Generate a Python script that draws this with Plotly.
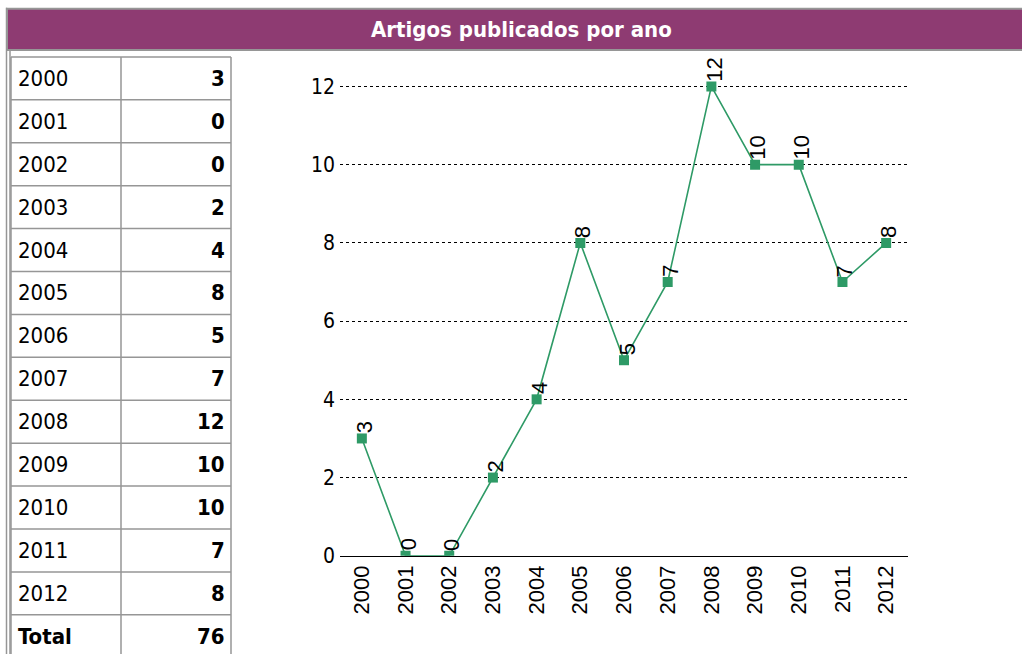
import plotly.graph_objects as go

years = ["2000", "2001", "2002", "2003", "2004", "2005", "2006", "2007", "2008", "2009", "2010", "2011", "2012"]
counts = [3, 0, 0, 2, 4, 8, 5, 7, 12, 10, 10, 7, 8]
total_label = "Total"
title_text = "Artigos publicados por ano"
y_ticks = [0, 2, 4, 6, 8, 10, 12]

W, H = 1022, 666
PURPLE = "rgb(142,59,114)"
GREEN = "rgb(46,154,102)"
GRAY = "rgb(150,150,150)"
TFONT = "DejaVu Sans Condensed"

fig = go.Figure()

# chart
fig.add_trace(go.Scatter(
    x=years, y=counts, mode="lines+markers",
    line=dict(color=GREEN, width=1.6),
    marker=dict(symbol="square", size=10, color=GREEN),
    cliponaxis=True, showlegend=False, hoverinfo="x+y",
    xaxis="x", yaxis="y",
))
for i, (yr, c) in enumerate(zip(years, counts)):
    fig.add_annotation(
        x=i, y=c, xref="x", yref="y", text=str(c), showarrow=False,
        textangle=-90, yanchor="bottom", xanchor="center", yshift=3, xshift=3,
        font=dict(family="Liberation Sans", size=22, color="black"),
    )

# pixel-space overlay axis for table/frame
fig.add_trace(go.Scatter(x=[0], y=[0], xaxis="x2", yaxis="y2", mode="markers",
                         marker=dict(opacity=0), showlegend=False, hoverinfo="skip"))

shapes = []
# outer frame lines on left
shapes.append(dict(type="line", xref="x2", yref="y2", x0=6.5, x1=6.5, y0=8, y1=H, line=dict(color=GRAY, width=1.5)))
shapes.append(dict(type="line", xref="x2", yref="y2", x0=10, x1=10, y0=50, y1=H, line=dict(color=GRAY, width=1.5)))
# title bar
shapes.append(dict(type="rect", xref="x2", yref="y2", x0=7, x1=W + 5, y0=9, y1=51,
                   fillcolor=PURPLE, line=dict(color=GRAY, width=2), layer="above"))

# table
tx0, tx1, tmid = 11, 231, 121
ty0, rh = 58, 43.7
rows = list(zip(years, [str(c) for c in counts])) + [(total_label, str(sum(counts)))]
n = len(rows)
for i in range(n + 1):
    yy = ty0 + i * rh
    shapes.append(dict(type="line", xref="x2", yref="y2", x0=tx0, x1=tx1, y0=yy, y1=yy,
                       line=dict(color=GRAY, width=1.5)))
for xx in (tx0, tmid, tx1):
    shapes.append(dict(type="line", xref="x2", yref="y2", x0=xx, x1=xx, y0=ty0, y1=ty0 + n * rh,
                       line=dict(color=GRAY, width=1.5)))

for i, (lab, val) in enumerate(rows):
    yc = ty0 + (i + 0.5) * rh
    is_total = (lab == total_label)
    fig.add_annotation(x=16, y=yc, xref="x2", yref="y2", text=("<b>%s</b>" % lab) if is_total else lab,
                       showarrow=False, xanchor="left", yanchor="middle",
                       font=dict(family=TFONT, size=22, color="black"))
    fig.add_annotation(x=227, y=yc, xref="x2", yref="y2", text="<b>%s</b>" % val,
                       showarrow=False, xanchor="right", yanchor="middle",
                       font=dict(family=TFONT, size=22, color="black"))

fig.add_annotation(x=521, y=30, xref="x2", yref="y2", text="<b>%s</b>" % title_text,
                   showarrow=False, xanchor="center", yanchor="middle",
                   font=dict(family=TFONT, size=22, color="white"))

# geometry of plot area in pixels
px_left, px_right = 340, 908
px_zero, px_twelve = 566, 88
unit = (px_zero - px_twelve) / 12.0
ymax = 12.6
px_top = px_zero - ymax * unit

fig.update_layout(
    width=W, height=H, autosize=False, margin=dict(l=0, r=0, t=0, b=0, pad=0),
    paper_bgcolor="white", plot_bgcolor="rgba(0,0,0,0)",
    shapes=shapes,
    xaxis=dict(domain=[px_left / W, px_right / W], type="category", range=[-0.5, 12.5],
               showgrid=False, showline=True, linecolor="black", linewidth=1,
               ticks="", tickangle=-90, zeroline=False, anchor="y",
               tickfont=dict(family="Liberation Sans", size=22, color="black"), fixedrange=True),
    yaxis=dict(domain=[1 - px_zero / H, 1 - px_top / H], range=[0, ymax], anchor="x",
               tickvals=y_ticks, showgrid=True, gridcolor="black", griddash="dot", gridwidth=1,
               zeroline=False, showline=False, ticks="", ticklabelstandoff=4,
               tickfont=dict(family=TFONT, size=21, color="black"), fixedrange=True),
    xaxis2=dict(domain=[0, 1], range=[0, W], visible=False, anchor="y2", fixedrange=True),
    yaxis2=dict(domain=[0, 1], range=[H, 0], visible=False, anchor="x2", fixedrange=True),
)

css_js = (
    "var s=document.createElement('style');"
    "s.innerHTML='html,body{margin:0;padding:0;overflow:hidden;font-size:0;line-height:0}"
    " .plotly-graph-div{display:block}';"
    "document.head.appendChild(s);"
)
fig.write_html("out.html", config={"displayModeBar": False, "responsive": False}, post_script=css_js)
